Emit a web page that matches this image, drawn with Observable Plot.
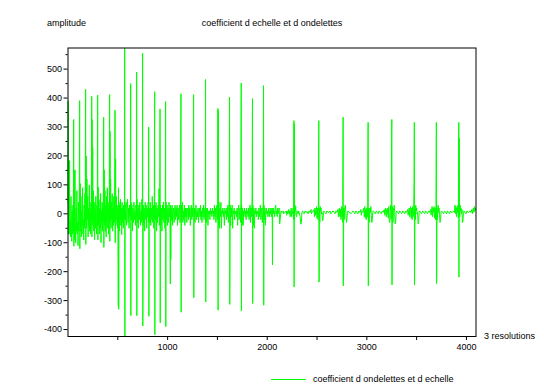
<!DOCTYPE html>
<html><head><meta charset="utf-8">
<script src="https://cdn.jsdelivr.net/npm/d3@7"></script>
<script src="https://cdn.jsdelivr.net/npm/@observablehq/plot@0.6"></script>
<style>
body{margin:0;background:#fff;}
#wrap{position:relative;width:544px;height:385px;font-family:"Liberation Sans",Arial,sans-serif;font-size:9px;color:#000;}
.t{position:absolute;line-height:11px;white-space:pre;}
</style></head><body>
<div id="wrap"></div>
<script>
// wavelet coefficients, [sample index, amplitude]
const levelA = [[0,40],[2,390],[4,-70],[8,-30],[12,-70],[16,184],[18,-60],[22,-20],[26,-80],[30,60],[34,-50],[38,-95],[42,10],[46,-70],[50,30],[54,-60],
[57,326],[59,-112],[63,150],[66,-90],[70,152],[73,-40],[77,-100],[81,20],[85,-60],[89,80],[93,-70],[97,-30],[101,-110],[105,40],[109,-60],[113,10],
[117,391],[119,-121],[123,104],[126,-60],[130,60],[134,-80],[138,10],[142,-40],[146,90],[150,-70],[154,-20],[158,-90],[162,30],[166,-50],[170,70],[173,-30],
[177,430],[179,-106],[183,199],[186,-50],[190,120],[194,-20],[198,60],[202,-80],[206,20],[210,-40],[214,100],[218,-60],[222,10],[226,-70],[230,40],[234,-30],
[238,406],[240,-80],[242,326],[244,-40],[248,229],[251,-30],[255,80],[259,-60],[263,40],[267,-90],[271,20],[275,-50],[279,60],[283,-20],[287,-70],[291,30],[294,-40],
[298,410],[300,-90],[304,92],[307,-40],[311,50],[315,-70],[319,20],[323,-50],[327,70],[331,-100],[335,10],[339,-30],[343,40],[347,-60],[351,20],[354,-20],
[358,334],[360,-116],[364,152],[367,-40],[371,80],[375,-60],[379,30],[383,-80],[387,60],[391,-30],[395,90],[399,-50],[403,20],[407,-70],[411,40],[414,-20],
[418,412],[420,-95],[422,285],[424,-30],[428,120],[432,-50],[436,40],[440,-20],[444,70],[448,-60],[452,20],[456,-40],[460,60],[464,-30],[468,10],
[472,358],[474,-100],[478,190],[481,-40],[485,60],[489,-20],[493,30],[497,-50],[501,20],
[505,-317],[507,90],[509,-330],[511,40],[515,-60],[519,30],[523,-20],[527,50],[531,-40],[535,20],[539,-72],[543,40],[547,-30],[551,20],[555,-50],[559,30],[563,-20],[567,10],
[569,573],[571,-424],[573,30]];
const levelB = [[578,-20],[583,40],[588,-40],[593,10],[598,50],[603,-30],[608,20],[613,-50],[618,30],[623,-10],[627,20],
[629,450],[631,-352],[633,40],[637,-20],[642,30],[647,-60],[652,20],[657,-30],[662,40],[667,-20],[672,10],[677,-40],[682,30],[687,-10],
[689,490],[691,-352],[693,50],[697,-30],[702,20],[707,-50],[712,30],[717,-20],[722,40],[727,-40],[732,10],[737,-30],[742,50],[747,-20],
[749,555],[751,-388],[753,-202],[755,30],[760,-40],[765,20],[770,-60],[775,40],[780,-20],[785,30],[790,-50],[795,20],[800,-10],[805,40],[808,-30],
[810,300],[812,-354],[814,-201],[816,20],[821,-30],[826,40],[831,-40],[836,20],[841,-20],[846,60],[851,-30],[856,30],[861,-50],[866,10],
[870,422],[872,-418],[874,30],[879,-20],[884,40],[889,-60],[894,20],[899,-30],[904,30],[909,-10],[914,87],[917,-40],[921,20],
[924,362],[926,-377],[928,30],[933,-40],[938,20],[943,-60],[948,30],[953,-20],[958,40],[963,-30],[968,20],[973,-50],[977,10],
[980,388],[982,-390],[984,40],[989,-20],[994,30],[999,-40],[1004,20],[1009,-30],[1014,40],[1019,-10],[1024,20],
[1027,-242],[1029,30],[1032,-158],[1035,20],[1040,-20],[1045,30],[1050,-40],[1055,10],[1060,20],[1065,-30],[1070,10],[1075,30],[1080,-20],[1085,20],[1090,-10],[1095,30],[1100,-40],[1105,20],[1110,-20],[1115,10],[1120,30],[1125,-30],[1130,20],
[1134,415],[1136,-340],[1138,30],[1143,-20],[1148,40],[1153,-30],[1158,10],[1163,-20],[1168,30],[1173,-40],[1178,20],[1183,-10],[1188,20],[1193,-30],[1198,10],[1203,20],[1208,-20],[1213,30],[1218,-10],[1223,20],[1228,-40],[1233,10],[1238,30],[1243,-20],[1248,20],[1253,-10],[1257,40],
[1259,163],[1261,412],[1263,-290],[1265,-40],[1270,20],[1275,-30],[1280,10],[1285,30],[1290,-20],[1295,10],[1300,-10],[1305,20],[1310,-30],[1315,10],[1320,20],[1325,-10],[1330,30],[1335,-20],[1340,10],[1345,-30],[1350,20],[1355,-10],[1360,30],[1365,-20],[1370,10],[1375,20],[1379,-10]];
const levelC = [[1381,464],[1383,-305],[1385,20],[1390,-30],[1395,10],[1400,20],[1405,-40],[1410,10],[1415,0],[1420,10],[1425,-20],[1430,20],[1435,0],[1440,10],[1445,-10],[1450,20],[1455,0],[1460,10],[1465,-20],[1470,30],[1475,-10],[1480,20],[1485,-30],[1490,10],[1495,30],[1500,-20],[1503,10],
[1505,364],[1507,-333],[1509,357],[1511,-40],[1515,40],[1520,-50],[1525,20],[1530,-10],[1535,40],[1540,-50],[1545,10],[1550,0],[1555,20],[1560,-10],[1565,10],[1570,-40],[1575,20],[1580,0],[1585,10],[1590,-20],[1595,20],[1600,-10],[1605,30],[1610,-30],[1615,20],[1619,50],
[1622,403],[1624,-313],[1626,-133],[1628,30],[1633,-40],[1638,20],[1643,-10],[1648,30],[1653,-50],[1658,10],[1663,0],[1668,20],[1673,-20],[1678,10],[1683,0],[1688,10],[1693,-10],[1698,20],[1703,-40],[1708,10],[1713,30],[1718,-20],[1723,10],[1728,20],[1733,-30],[1736,10],
[1737,305],[1739,452],[1741,-336],[1743,30],[1748,-40],[1753,20],[1758,-40],[1763,10],[1768,0],[1773,20],[1778,-10],[1783,10],[1788,-20],[1793,20],[1798,0],[1803,10],[1808,-10],[1813,20],[1818,-20],[1823,10],[1828,30],[1833,-30],[1838,20],[1843,-10],[1848,60],
[1852,398],[1854,-310],[1856,30],[1861,-40],[1866,20],[1871,-50],[1876,10],[1881,0],[1886,20],[1891,-10],[1896,10],[1901,0],[1906,10],[1911,-20],[1916,20],[1921,-10],[1926,10],[1931,30],[1936,-20],[1941,10],[1946,20],[1951,-30],[1956,10],[1960,30],
[1963,443],[1965,-316],[1967,30],[1972,-20],[1977,20],[1982,-40],[1987,10],[1992,20],[1997,0],[2002,10],[2007,-10],[2012,10],[2017,20],[2022,-10],[2027,10],[2032,0],[2037,20],[2042,-10],[2047,10],[2050,20]];
const levelD = [[2053,-177],[2055,10],[2060,20],[2065,0],[2070,10],[2075,-10],[2080,20],[2085,30],[2090,0],[2095,10],[2100,-10],[2105,20],[2110,0],[2115,10],[2120,20],[2125,-35],[2130,-20],[2135,0],[2140,10],[2145,5],[2150,5],[2160,10],[2165,0],[2170,5],[2180,5],[2190,10],[2195,-5],[2200,10],[2205,0],[2210,5],[2215,15],[2220,0],[2225,10],[2230,-10],[2235,5],[2240,20],[2245,-10],[2250,10],[2255,0],[2260,20],[2264,-20],[2266,30],
[2268,322],[2270,-253],[2272,311],[2274,-20],[2278,30],[2282,10],[2286,25],[2290,-5],[2295,-10],[2300,10],[2305,5],[2310,0],[2315,10],[2320,5],[2330,-10],[2338,-36],[2343,-30],[2348,5],[2355,10],[2362,5],[2370,0],[2380,10],[2390,5],[2400,8],[2410,0],[2420,10],[2430,5],[2440,15],[2445,0],[2450,5],[2460,10],[2470,15],[2475,-10],[2480,20],[2485,-5],[2490,10],[2495,25],[2500,-15],[2505,20],[2510,-20],[2514,30],
[2518,322],[2520,-236],[2522,-215],[2524,20],[2528,-30],[2532,25],[2536,10],[2540,20],[2545,0],[2550,5],[2555,-25],[2560,-20],[2565,5],[2570,10],[2580,5],[2590,0],[2600,10],[2610,5],[2620,5],[2630,10],[2640,0],[2650,5],[2660,10],[2670,5],[2680,0],[2690,10],[2700,5],[2710,15],[2715,-10],[2720,10],[2725,20],[2730,-10],[2735,15],[2740,-20],[2745,25],[2750,-10],[2755,20],[2758,-30],[2760,208],
[2762,334],[2764,-249],[2766,-101],[2768,20],[2772,-20],[2776,10],[2780,25],[2785,30],[2790,0],[2795,-30],[2800,-20],[2805,5],[2810,10],[2820,5],[2830,5],[2840,0],[2850,5],[2860,10],[2870,5],[2880,0],[2890,10],[2900,5],[2910,0],[2920,10],[2930,5],[2940,15],[2945,-5],[2950,10],[2960,5],[2970,20],[2975,-10],[2980,25],[2985,-15],[2990,15],[2995,-20],[3000,20],[3005,-10],[3009,30],[3011,187],
[3013,316],[3015,-249],[3017,-101],[3019,20],[3023,-30],[3027,15],[3031,20],[3035,5],[3040,25],[3045,-5],[3050,-30],[3055,-20],[3060,5],[3065,10],[3075,5],[3085,0],[3095,10],[3105,5],[3115,0],[3125,10],[3135,5],[3145,0],[3155,10],[3165,5],[3175,15],[3180,-5],[3185,10],[3190,20],[3195,-10],[3200,15],[3205,0],[3210,20],[3215,-15],[3220,25],[3225,-20],[3230,-30],[3235,10],[3240,30],[3245,-20],[3249,282],
[3251,326],[3253,-246],[3255,10],[3259,25],[3263,-30],[3267,20],[3271,10],[3275,30],[3280,5],[3285,-35],[3290,-25],[3295,5],[3300,10],[3310,5],[3320,0],[3330,10],[3340,5],[3350,0],[3360,10],[3370,5],[3380,0],[3390,10],[3400,5],[3410,15],[3415,-5],[3420,10],[3425,20],[3430,-10],[3435,15],[3440,25],[3445,-15],[3450,20],[3455,-20],[3460,25],[3465,-10],[3470,10],[3474,104],
[3477,316],[3479,-246],[3481,-143],[3483,20],[3487,-20],[3491,30],[3495,10],[3500,20],[3505,0],[3510,5],[3515,-35],[3520,-30],[3525,5],[3530,10],[3540,5],[3550,0],[3560,10],[3570,5],[3580,0],[3590,10],[3600,5],[3610,0],[3620,10],[3630,5],[3640,15],[3645,-5],[3650,10],[3655,25],[3660,-10],[3665,20],[3670,5],[3675,25],[3680,-15],[3685,20],[3690,-20],[3694,15],
[3698,316],[3700,-241],[3702,-215],[3704,20],[3708,-20],[3712,10],[3716,30],[3720,5],[3725,20],[3730,-5],[3735,-30],[3740,-20],[3745,5],[3750,10],[3760,5],[3770,0],[3780,10],[3790,5],[3800,0],[3810,10],[3820,5],[3830,0],[3840,10],[3850,5],[3860,5],[3870,10],[3880,5],[3885,30],[3890,0],[3895,25],[3900,-10],[3905,20],[3910,5],[3915,30],[3919,-15],
[3923,316],[3925,-219],[3927,262],[3929,20],[3933,-10],[3937,30],[3941,10],[3945,20],[3950,0],[3955,15],[3960,-30],[3965,-25],[3970,5],[3975,10],[3985,5],[3995,0],[4005,10],[4015,5],[4025,5],[4035,10],[4045,5],[4055,15],[4060,0],[4065,10],[4070,20],[4075,5],[4080,25],[4085,10],[4090,20],[4095,15]];

const xLabelTicks = [1000, 2000, 3000, 4000];
const xMinorTicks = [500, 1500, 2500, 3500];
const yLabelTicks = [-400, -300, -200, -100, 0, 100, 200, 300, 400, 500];
const yMinorTicks = [-350, -250, -150, -50, 50, 150, 250, 350, 450, 550];

const titleText = "coefficient d echelle et d ondelettes";
const yLabel = "amplitude";
const xLabel = "3 resolutions";
const legendText = "coefficient d ondelettes et d echelle";

const series = levelA.concat(levelB, levelC, levelD).map(([i, v]) => ({i, v}));

const chart = Plot.plot({
  width: 544, height: 385,
  marginLeft: 67.5, marginRight: 68.5, marginTop: 47.5, marginBottom: 49,
  style: {fontSize: "9px", fontFamily: "Liberation Sans, Arial, sans-serif", color: "#000", background: "#fff", overflow: "visible"},
  x: {domain: [0, 4096]},
  y: {domain: [-424, 573]},
  marks: [
    Plot.line(series, {x: "i", y: "v", stroke: "#00ff00", strokeWidth: 1, curve: "linear"}),
    Plot.frame({stroke: "#000", strokeWidth: 1}),
    Plot.axisX({ticks: xLabelTicks, tickSize: 4, tickPadding: 3, tickFormat: d => String(d), label: null}),
    Plot.axisX({ticks: xMinorTicks, tickSize: 4, text: null, label: null}),
    Plot.axisY({ticks: yLabelTicks, tickSize: 4, tickPadding: 2, tickFormat: d => String(d), label: null}),
    Plot.axisY({ticks: yMinorTicks, tickSize: 2, text: null, label: null})
  ]
});
const wrap = document.getElementById("wrap");
wrap.appendChild(chart);
chart.style.position = "absolute"; chart.style.left = "0"; chart.style.top = "0";

function addText(txt, left, cy, center) {
  const d = document.createElement("div");
  d.className = "t";
  d.textContent = txt;
  d.style.top = (cy - 5.5) + "px";
  if (center) { d.style.left = "0"; d.style.width = "544px"; d.style.textAlign = "center"; }
  else d.style.left = left + "px";
  wrap.appendChild(d);
}
addText(yLabel, 47, 23);
addText(titleText, 0, 23, true);
addText(xLabel, 484, 336);
addText(legendText, 313, 379);
const ln = document.createElement("div");
ln.style.cssText = "position:absolute;left:271px;top:379px;width:35px;height:1px;background:#00ff00;";
wrap.appendChild(ln);
</script>
</body></html>
